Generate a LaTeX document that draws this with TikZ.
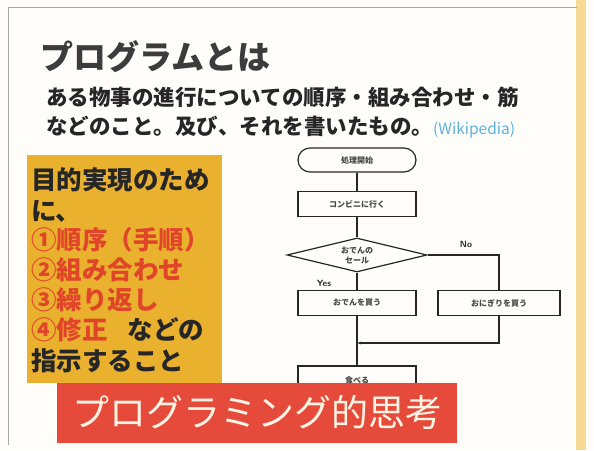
\documentclass[tikz,border=0pt]{standalone}
\usepackage{fontspec}
\newfontfamily\jp{Noto Sans CJK JP}
\usetikzlibrary{shapes.geometric,arrows.meta}
\definecolor{paper}{HTML}{FEFDF9}
\definecolor{gold}{HTML}{E9B12E}
\definecolor{redtxt}{HTML}{E0452A}
\definecolor{banner}{HTML}{E54A3A}
\definecolor{cream}{HTML}{FFF3E4}
\definecolor{wiki}{HTML}{5DB3DF}
\definecolor{strip}{HTML}{F6D993}
\definecolor{ink}{HTML}{262626}
\begin{document}
\begin{tikzpicture}[x=1pt,y=1pt,
  txt/.style={inner sep=0pt,anchor=west,text=ink,font=\jp\bfseries},
  flow/.style={draw=ink,line width=1.2pt,minimum width=118pt,minimum height=25pt,inner sep=0pt,font=\jp\bfseries\fontsize{8}{9}\selectfont,text=ink!85},
  conn/.style={draw=ink,line width=1.2pt},
  lab/.style={inner sep=0pt,font=\sffamily\bfseries\fontsize{9}{10}\selectfont,text=ink}]
\useasboundingbox (0,0) rectangle (594,450);
\fill[paper] (0,0) rectangle (594,450);
\fill[strip] (576,0) rectangle (586,450);
% frame
\draw[gray!70,line width=1pt] (8,5) -- (8,442) -- (577,442);
% title and text
\node[txt,text=ink!90,font=\jp\bfseries\fontsize{33}{36}\selectfont] (title) at (40,393) {プログラムとは};
\node[txt,font=\jp\bfseries\fontsize{21.5}{24}\selectfont] (l1) at (46,353) {ある物事の進行についての順序・組み合わせ・筋};
\node[txt,font=\jp\bfseries\fontsize{21.5}{24}\selectfont] (l2) at (46,323) {などのこと。及び、それを書いたもの。\textcolor{wiki}{\mdseries\fontsize{15.5}{18}\selectfont (Wikipedia)}};
% orange box
\fill[gold] (27,67) rectangle (222,295);
\begin{scope}[every node/.style={txt,font=\jp\bfseries\fontsize{25.5}{28}\selectfont}]
\node (b1) at (31,270) {目的実現のため};
\node (b2) at (31,239) {に、};
\node (b3) at (31,210) {\textcolor{redtxt}{①順序（手順）}};
\node (b4) at (31,180) {\textcolor{redtxt}{②組み合わせ}};
\node (b5) at (31,150) {\textcolor{redtxt}{③繰り返し}};
\node (b6) at (31,120) {\textcolor{redtxt}{④修正}\hspace{20pt}などの};
\node (b7) at (31,89) {指示すること};
\end{scope}
% flowchart
\node[flow,rounded corners=12pt,minimum height=24pt] (start) at (357,290) {処理開始};
\node[flow] (go) at (357,246) {コンビニに行く};
\node[flow,shape=diamond,aspect=4.1,minimum width=140pt,minimum height=34pt,align=center,font=\jp\bfseries\fontsize{8}{10}\selectfont] (dec) at (357,195) {おでんの\\セール};
\node[flow] (oden) at (357,147) {おでんを買う};
\node[flow,minimum width=122pt] (onigiri) at (499,147) {おにぎりを買う};
\node[flow,minimum height=28pt] (eat) at (357,70) {食べる};
\coordinate (merge) at (357,107);
\draw[conn] (start) -- (go);
\draw[conn] (go) -- (dec);
\draw[conn] (dec) -- (oden);
\draw[conn] (dec.east) -| (onigiri.north);
\draw[conn] (oden) -- (eat);
\draw[conn,-{Latex[length=4pt,width=3pt]}] (onigiri.south) |- (merge);
\node[lab] (no) at (466,206) {No};
\node[lab] (yes) at (324,167) {Yes};
% banner
\fill[banner] (57,7) rectangle (457,67);
\node[inner sep=0pt,font=\jp\fontsize{37}{40}\selectfont,text=cream] (ban) at (257,38) {プログラミング的思考};
\end{tikzpicture}
\end{document}
